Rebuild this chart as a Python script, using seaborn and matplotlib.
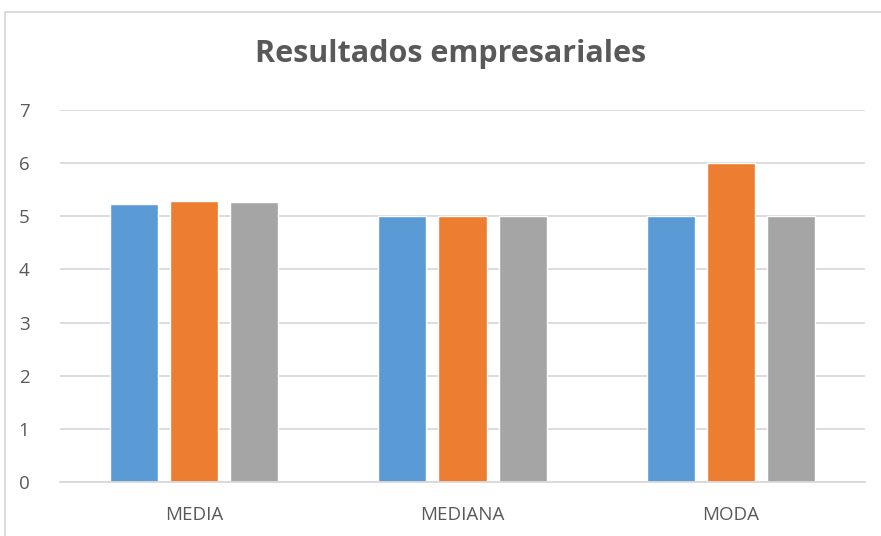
import pandas as pd
import matplotlib.pyplot as plt
import seaborn as sns
from matplotlib.patches import Rectangle

# values
categories = ["MEDIA", "MEDIANA", "MODA"]
series_names = ["Serie 1", "Serie 2", "Serie 3"]
serie1 = [5.23, 5.0, 5.0]
serie2 = [5.28, 5.0, 6.0]
serie3 = [5.26, 5.0, 5.0]
y_ticks = [0, 1, 2, 3, 4, 5, 6, 7]
colors = ["#5B9BD5", "#ED7D31", "#A5A5A5"]

rows = []
for name, vals in zip(series_names, [serie1, serie2, serie3]):
    for cat, v in zip(categories, vals):
        rows.append({"Categoria": cat, "Serie": name, "Valor": v})
df = pd.DataFrame(rows)

sns.set_style("white")
plt.rcParams["font.family"] = ["Open Sans", "DejaVu Sans"]

fig = plt.figure(figsize=(8.81, 5.36), dpi=100)
ax = fig.add_axes([60 / 881, 54 / 536, 805 / 881, 372 / 536])

sns.barplot(data=df, x="Categoria", y="Valor", hue="Serie", order=categories,
            hue_order=series_names, palette=colors, width=0.671, gap=0.2,
            saturation=1, legend=False, ax=ax)

ax.set_ylim(0, 7)
ax.set_xlim(-0.5, 2.5)
ax.set_yticks(y_ticks)
ax.set_yticklabels([str(t) for t in y_ticks])
ax.yaxis.grid(True, color="#d9d9d9", linewidth=1.3)
ax.set_axisbelow(True)
for s in ["top", "right", "left"]:
    ax.spines[s].set_visible(False)
ax.spines["bottom"].set_color("#d9d9d9")
ax.spines["bottom"].set_linewidth(1.3)
ax.tick_params(axis="both", length=0, labelsize=13.5, labelcolor="#595959")
ax.tick_params(axis="x", pad=17)
ax.tick_params(axis="y", pad=22)
ax.set_xlabel("")
ax.set_ylabel("")

fig.text(451 / 881, 1 - 54 / 536, "Resultados empresariales", ha="center", va="center",
         fontsize=22, fontweight="bold", color="#595959")

# outer chart frame (cropped at right and bottom)
fig.patches.append(Rectangle((4.5 / 881, -0.05), 1.0, 1 - 11.5 / 536 + 0.05,
                             transform=fig.transFigure, fill=False,
                             edgecolor="#d9d9d9", linewidth=1.3))

fig.savefig("out.png", dpi=100)
